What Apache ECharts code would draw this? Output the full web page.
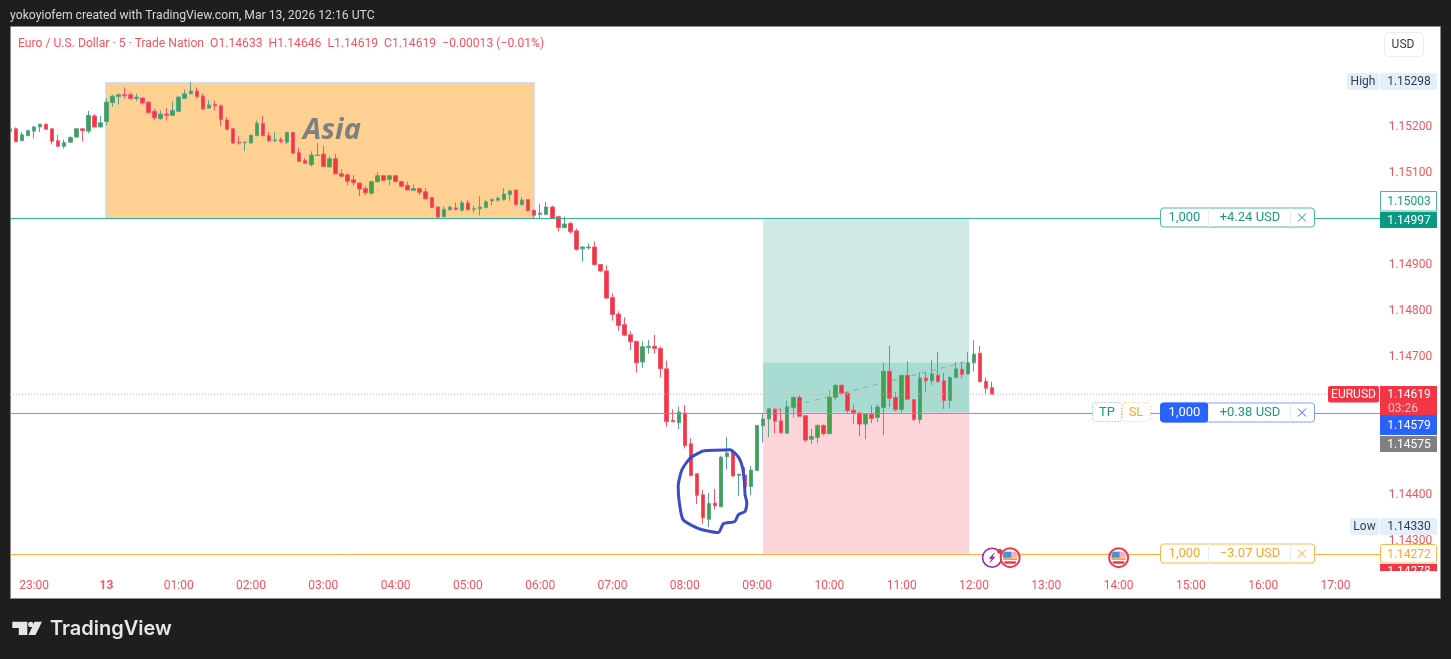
<!DOCTYPE html>
<html><head><meta charset="utf-8">
<style>html,body{margin:0;padding:0;background:#1e1e1e}#c{width:1451px;height:659px}</style>
<script src="https://cdn.jsdelivr.net/npm/echarts@6/dist/echarts.min.js"></script>
</head><body><div id="c"></div>
<script>
const opens=[1.15190,1.15196,1.15170,1.15181,1.15191,1.15200,1.15206,1.15196,1.15170,1.15158,
1.15167,1.15178,1.15196,1.15191,1.15224,1.15200,1.15212,1.15253,1.15266,1.15270,
1.15270,1.15262,1.15263,1.15254,1.15234,1.15218,1.15228,1.15225,1.15234,1.15262,
1.15272,1.15278,1.15267,1.15241,1.15249,1.15246,1.15215,1.15196,1.15167,1.15166,
1.15165,1.15181,1.15208,1.15181,1.15170,1.15172,1.15167,1.15188,1.15144,1.15127,
1.15118,1.15138,1.15141,1.15113,1.15131,1.15098,1.15096,1.15085,1.15078,1.15066,
1.15056,1.15081,1.15094,1.15086,1.15094,1.15081,1.15073,1.15062,1.15066,1.15059,
1.15047,1.15026,1.15005,1.15020,1.15024,1.15019,1.15035,1.15021,1.15022,1.15025,
1.15039,1.15041,1.15042,1.15053,1.15063,1.15031,1.15042,1.15019,1.15010,1.15010,
1.15026,1.15005,1.14981,1.14990,1.14974,1.14935,1.14937,1.14939,1.14901,1.14887,
1.14829,1.14793,1.14770,1.14748,1.14734,1.14689,1.14720,1.14723,1.14718,1.14674,
1.14562,1.14557,1.14578,1.14511,1.14446,1.14400,1.14347,1.14382,1.14374,1.14483,
1.14493,1.14442,1.14443,1.14418,1.14453,1.14550,1.14565,1.14586,1.14561,1.14534,
1.14590,1.14612,1.14572,1.14521,1.14525,1.14551,1.14533,1.14612,1.14638,1.14621,
1.14584,1.14578,1.14554,1.14575,1.14568,1.14590,1.14669,1.14612,1.14586,1.14660,
1.14607,1.14564,1.14654,1.14648,1.14660,1.14648,1.14605,1.14655,1.14673,1.14663,
1.14687,1.14708,1.14647,1.14633];
const closes=[1.15196,1.15168,1.15183,1.15192,1.15200,1.15206,1.15195,1.15169,1.15158,1.15166,
1.15177,1.15196,1.15192,1.15225,1.15200,1.15209,1.15254,1.15267,1.15270,1.15268,
1.15262,1.15265,1.15252,1.15231,1.15220,1.15228,1.15225,1.15236,1.15265,1.15272,
1.15278,1.15266,1.15239,1.15248,1.15246,1.15216,1.15195,1.15165,1.15165,1.15167,
1.15182,1.15208,1.15181,1.15170,1.15172,1.15169,1.15188,1.15143,1.15125,1.15121,
1.15139,1.15139,1.15114,1.15131,1.15098,1.15093,1.15082,1.15079,1.15065,1.15057,
1.15081,1.15094,1.15084,1.15094,1.15081,1.15071,1.15063,1.15066,1.15058,1.15044,
1.15025,1.15004,1.15021,1.15026,1.15021,1.15035,1.15020,1.15022,1.15026,1.15037,
1.15042,1.15045,1.15054,1.15061,1.15031,1.15041,1.15018,1.15008,1.15013,1.15026,
1.15001,1.14981,1.14989,1.14972,1.14934,1.14939,1.14939,1.14901,1.14887,1.14828,
1.14792,1.14768,1.14747,1.14733,1.14687,1.14722,1.14723,1.14718,1.14674,1.14559,
1.14559,1.14580,1.14507,1.14442,1.14399,1.14350,1.14381,1.14376,1.14482,1.14491,
1.14441,1.14445,1.14418,1.14454,1.14551,1.14565,1.14587,1.14560,1.14535,1.14591,
1.14612,1.14571,1.14519,1.14527,1.14551,1.14533,1.14612,1.14638,1.14621,1.14583,
1.14579,1.14554,1.14576,1.14566,1.14591,1.14669,1.14610,1.14585,1.14660,1.14608,
1.14564,1.14654,1.14648,1.14663,1.14646,1.14605,1.14655,1.14674,1.14662,1.14687,
1.14706,1.14646,1.14632,1.14619];
const highs=[1.15196,1.15199,1.15189,1.15194,1.15202,1.15207,1.15207,1.15197,1.15183,1.15173,
1.15180,1.15198,1.15197,1.15235,1.15228,1.15224,1.15262,1.15270,1.15273,1.15286,
1.15275,1.15272,1.15264,1.15255,1.15240,1.15236,1.15241,1.15255,1.15266,1.15281,
1.15298,1.15286,1.15272,1.15258,1.15257,1.15249,1.15222,1.15197,1.15180,1.15169,
1.15183,1.15214,1.15224,1.15189,1.15189,1.15178,1.15190,1.15188,1.15155,1.15132,
1.15147,1.15165,1.15159,1.15137,1.15141,1.15108,1.15098,1.15095,1.15079,1.15072,
1.15083,1.15102,1.15095,1.15095,1.15095,1.15083,1.15081,1.15075,1.15067,1.15067,
1.15047,1.15027,1.15027,1.15027,1.15036,1.15040,1.15042,1.15029,1.15049,1.15042,
1.15045,1.15049,1.15067,1.15063,1.15063,1.15047,1.15043,1.15020,1.15033,1.15037,
1.15029,1.15007,1.15005,1.14994,1.14979,1.14940,1.14947,1.14951,1.14901,1.14899,
1.14838,1.14799,1.14786,1.14756,1.14734,1.14734,1.14737,1.14748,1.14723,1.14692,
1.14586,1.14592,1.14595,1.14523,1.14446,1.14411,1.14404,1.14413,1.14485,1.14526,
1.14498,1.14445,1.14460,1.14463,1.14551,1.14578,1.14588,1.14589,1.14587,1.14605,
1.14614,1.14617,1.14573,1.14544,1.14553,1.14553,1.14627,1.14641,1.14641,1.14624,
1.14596,1.14580,1.14578,1.14594,1.14597,1.14687,1.14724,1.14624,1.14661,1.14690,
1.14608,1.14667,1.14666,1.14694,1.14711,1.14665,1.14658,1.14689,1.14690,1.14710,
1.14736,1.14724,1.14655,1.14646];
const lows=[1.15190,1.15167,1.15169,1.15180,1.15175,1.15189,1.15194,1.15162,1.15156,1.15153,
1.15165,1.15177,1.15169,1.15186,1.15199,1.15199,1.15204,1.15244,1.15249,1.15262,
1.15259,1.15256,1.15249,1.15230,1.15215,1.15216,1.15214,1.15224,1.15233,1.15262,
1.15271,1.15262,1.15237,1.15240,1.15236,1.15202,1.15194,1.15163,1.15162,1.15148,
1.15165,1.15181,1.15181,1.15167,1.15168,1.15165,1.15162,1.15141,1.15124,1.15120,
1.15114,1.15137,1.15113,1.15112,1.15097,1.15091,1.15073,1.15072,1.15050,1.15051,
1.15052,1.15079,1.15083,1.15073,1.15080,1.15069,1.15062,1.15061,1.15052,1.15042,
1.15023,1.15002,1.15003,1.15018,1.15018,1.15016,1.15018,1.15014,1.15008,1.15023,
1.15030,1.15037,1.15040,1.15039,1.15030,1.15029,1.15017,1.15000,1.15000,1.15008,
1.15000,1.14973,1.14981,1.14968,1.14931,1.14907,1.14933,1.14898,1.14884,1.14826,
1.14779,1.14757,1.14746,1.14715,1.14666,1.14676,1.14707,1.14707,1.14656,1.14548,
1.14558,1.14543,1.14501,1.14440,1.14380,1.14337,1.14330,1.14368,1.14373,1.14455,
1.14440,1.14397,1.14417,1.14399,1.14452,1.14514,1.14525,1.14534,1.14534,1.14533,
1.14568,1.14571,1.14515,1.14511,1.14512,1.14529,1.14532,1.14605,1.14616,1.14576,
1.14555,1.14527,1.14521,1.14556,1.14558,1.14530,1.14591,1.14581,1.14579,1.14607,
1.14560,1.14555,1.14625,1.14639,1.14645,1.14587,1.14587,1.14654,1.14654,1.14662,
1.14668,1.14645,1.14620,1.14619];

// 5-minute slots from 22:40 through 17:35 next day
const categories=[];
for(let i=0;i<228;i++){const m=(22*60+40+5*i)%1440;categories.push(String(Math.floor(m/60)).padStart(2,'0')+':'+String(m%60).padStart(2,'0'));}
const dayLabel={'00:00':'13'};
const shownPriceTicks=['1.15200','1.15100','1.14900','1.14800','1.14700','1.14400','1.14300'];

const tpPrice=1.15001, entryPrice=1.14579, slPrice=1.14272, lastPrice=1.14619, runPrice=1.14687;
const entryLine=1.14577, slLine=1.14270;
const asiaBox={from:16.4,to:87.5,top:1.15296,bottom:1.15001};
const posBox={from:125.5,to:159.7};
const tradeLine=[[126.0,1.14579],[159.7,1.14691]];
const axisSpan=[0,228];
const circlePos=[115.6,120.0,121.4,122.1,122.4,122.5,122.8,122.5,121.4,120.8,118.9,118.1,116.1,114.5,112.2,111.6,111.4,112.0,113.4,115.6];
const circlePrice=[1.14496,1.14498,1.14482,1.14458,1.14425,1.14400,1.14382,1.14364,1.14357,1.14342,1.14337,1.14318,1.14322,1.14328,1.14346,1.14382,1.14418,1.14454,1.14480,1.14496];

const FONT='Roboto, "Noto Sans", sans-serif';
const PINK='#f7525f', TEAL='#089981', BLUE='#2962ff', ORANGE='#ffa726', RED='#f23645';

const chart=echarts.init(document.getElementById('c'),null,{renderer:'canvas'});
const levelSeries=(name,p,color,type)=>({name,type:'line',xAxisIndex:1,data:axisSpan.map(x=>[x,p]),silent:true,z:5,showSymbol:false,lineStyle:{color,width:1,type}});
const base={
 animation:false,
 backgroundColor:'#1e1e1e',
 grid:{left:7,right:70.3,top:25.8,bottom:72.2,containLabel:false},
 xAxis:[{type:'category',data:categories,
   axisLine:{show:false},axisTick:{show:false},splitLine:{show:false},
   axisLabel:{color:PINK,fontFamily:FONT,fontSize:12,margin:-7,
     interval:(i,v)=>v.endsWith(':00'),
     formatter:v=>dayLabel[v]?'{b|'+dayLabel[v]+'}':v,
     rich:{b:{fontWeight:'bold',color:PINK,fontFamily:FONT,fontSize:12}}}},
  {type:'value',min:0,max:228,show:false,splitLine:{show:false}}],
 yAxis:{type:'value',position:'right',scale:true,min:1.142,max:1.1542,interval:0.001,
   axisLine:{show:false},axisTick:{show:false},splitLine:{show:false},
   axisLabel:{color:PINK,fontFamily:FONT,fontSize:12,margin:8,padding:[2,0,0,0],showMinLabel:true,showMaxLabel:false,
     formatter:v=>shownPriceTicks.includes(v.toFixed(5))?v.toFixed(5):''}},
 series:[
  {name:'zones',type:'line',xAxisIndex:1,data:[],silent:true,z:1,
   markArea:{silent:true,data:[
    [{xAxis:asiaBox.from,yAxis:asiaBox.top,itemStyle:{color:'#fed192',borderColor:'#cfdcf7',borderWidth:1.5}},{xAxis:asiaBox.to,yAxis:asiaBox.bottom}],
    [{xAxis:posBox.from,yAxis:tpPrice,itemStyle:{color:'#cfeae4'}},{xAxis:posBox.to,yAxis:entryPrice}],
    [{xAxis:posBox.from,yAxis:runPrice,itemStyle:{color:'#a8dcd2'}},{xAxis:posBox.to,yAxis:entryPrice}],
    [{xAxis:posBox.from,yAxis:entryPrice,itemStyle:{color:'#fbd5d9'}},{xAxis:posBox.to,yAxis:slPrice}]
   ]}},
  {name:'trade',type:'line',xAxisIndex:1,data:tradeLine,silent:true,z:1.5,showSymbol:false,
   lineStyle:{color:'#9aa5a2',width:1,type:[5,5]}},
  {name:'EURUSD',type:'candlestick',xAxisIndex:0,z:2,barWidth:4,
   data:opens.map((o,i)=>[o,closes[i],lows[i],highs[i]]),
   itemStyle:{color:'#43a04b',color0:RED,borderColor:'#55a58c',borderColor0:'#f5566a',borderWidth:1}},
  levelSeries('tp',tpPrice,'#35ae97','solid'),
  levelSeries('entry',entryLine,'#6f90fb','solid'),
  levelSeries('sl',slLine,'#ffa726','solid'),
  levelSeries('last',lastPrice,'#f7a0a8',[1,2]),
  {name:'circle',type:'line',xAxisIndex:1,data:circlePos.map((x,i)=>[x,circlePrice[i]]),silent:true,z:6,
   showSymbol:false,smooth:0.2,lineStyle:{color:'#3b4cc8',width:3}}
 ]
};
chart.setOption(base);

const Y=p=>chart.convertToPixel({yAxisIndex:0},p);
const X=t=>chart.convertToPixel({xAxisIndex:0},t);
const Z=100;
const g=[];
const rect=(x,y,w,h,fill,stroke,extra)=>g.push({type:'rect',silent:true,z:Z,shape:{x,y,width:w,height:h,r:(extra&&extra.r)||0},style:{fill:fill||'none',stroke:stroke||null,lineWidth:1,lineDash:extra&&extra.dash}});
const text=(t,x,y,fill,style)=>g.push({type:'text',silent:true,z:Z+1,style:Object.assign({text:t,x,y,fill,align:'center',verticalAlign:'middle',font:'12px '+FONT},style)});
const line=(x1,y1,x2,y2,c,w)=>g.push({type:'line',silent:true,z:Z+1,shape:{x1,y1,x2,y2},style:{stroke:c,lineWidth:w||1}});
const circle=(cx,cy,r,fill,stroke,w)=>g.push({type:'circle',silent:true,z:Z+1,shape:{cx,cy,r},style:{fill:fill||'none',stroke:stroke||null,lineWidth:w||1}});

// panel
g.push({type:'rect',silent:true,z:-5,shape:{x:10.5,y:26.5,width:1430,height:572},style:{fill:'#ffffff',stroke:'#8a8a8a',lineWidth:1}});
g.push({type:'rect',silent:true,z:50,shape:{x:0,y:20,width:10,height:590},style:{fill:'#1e1e1e'}});

// header
text('yokoyiofem created with TradingView.com, Mar 13, 2026 12:16 UTC',10,15.5,'#d6d6d6',{align:'left',font:'12.2px '+FONT});
text('Euro / U.S. Dollar · 5 · Trade Nation  O1.14633  H1.14646  L1.14619  C1.14619  −0.00013 (−0.01%)',18,43.5,PINK,{align:'left',font:'12.15px '+FONT});

// USD button
rect(1384.5,32.5,39,24,'#ffffff','#ececec',{r:4});
text('USD',1403,44.5,'#363a45');

// Asia label
text('Asia',332,130.5,'#7f7f7f',{font:'italic bold 29px "Open Sans", sans-serif'});

// High / Low
rect(1347,73,32,17,'#e3effd',null,{r:2});rect(1380,73,57,17,'#e3effd',null,{r:2});
text('High',1363,82,'#363a45');text('1.15298',1409,82,'#363a45');
rect(1350,518,29,17,'#e3effd',null,{r:2});rect(1380,518,57,17,'#e3effd',null,{r:2});
text('Low',1364.5,527,'#363a45');text('1.14330',1409,527,'#363a45');

// axis tags
rect(1380.5,191.5,56,19.5,'#ffffff','#4db8a2');text('1.15003',1409,201.5,'#1c9a83');
rect(1380,212,57,16,TEAL);text('1.14997',1409,220.5,'#ffffff');
rect(1328,386,51,16.5,RED,null,{r:2});text('EURUSD',1353.5,394.5,'#ffffff');
rect(1380,386,57,30,RED);text('1.14619',1409,394.5,'#ffffff');text('03:26',1403,409,'#fbc4c9');
rect(1380,415,57,20,BLUE);text('1.14579',1409,425.5,'#ffffff');
rect(1380,436,57,16,'#808080');text('1.14575',1409,444.5,'#ffffff');
rect(1380,564,57,10,RED);text('1.14278',1409,572,'#ffffff');
g.push({type:'rect',silent:true,z:Z+2,shape:{x:1380,y:571,width:57,height:12},style:{fill:'#ffffff'}});
rect(1380.5,544.5,56,18.5,'#ffffff','#ffb74d',{r:2});text('1.14272',1409,554.5,ORANGE);

// order pills
const PILL_FONT='13px '+FONT;
const pill=(p,border,qtyFill,qtyCol,txt,txtCol,xCol)=>{
 const y=Math.round(Y(p))-0.5;const top=y-9.5,h=19;
 rect(1160.5,top,154,h,'#ffffff',border,{r:3});
 if(qtyFill)rect(1160.5,top,47.5,h,qtyFill,qtyFill,{r:3});
 line(1208.5,top,1208.5,top+h,'#e6f1ef');line(1290.5,top,1290.5,top+h,'#e6f1ef');
 text('1,000',1184.5,y+0.5,qtyCol,{font:PILL_FONT});
 text(txt,1250,y+0.5,txtCol,{font:PILL_FONT});
 line(1298,y-4,1306,y+4,xCol);line(1306,y-4,1298,y+4,xCol);
};
pill(tpPrice,'#4db8a2',null,'#1c9a83','+4.24 USD','#1c9a83','#1c9a83');
pill(entryPrice,'#7e9dfb',BLUE,'#ffffff','+0.38 USD','#1c9a83',BLUE);
pill(slPrice,'#ffb74d',null,ORANGE,'−3.07 USD',ORANGE,ORANGE);

// TP / SL buttons
rect(1092.5,402.5,29,19,'#ffffff','#6cc7b4',{r:3,dash:[1,2]});text('TP',1107,412.5,'#1c9a83',{font:PILL_FONT});
rect(1122.5,402.5,28,19,'#ffffff','#ffc680',{r:3,dash:[1,2]});text('SL',1136,412.5,ORANGE,{font:PILL_FONT});

// event icons on the time scale
const evY=Y(slPrice)+4;
const evtLightning='12:15', evtFlags=['12:30','14:00'];
{const x=X(evtLightning);
 circle(x,evY,9.5,'#ffffff','#9c27b0',1.6);
 g.push({type:'polygon',silent:true,z:Z+1,shape:{points:[[x+3,evY-6],[x-3.5,evY+1],[x-0.5,evY+1],[x-3,evY+6],[x+3.5,evY-1],[x+0.5,evY-1]]},style:{fill:'#9c27b0'}});
}
evtFlags.forEach(t=>{const x=X(t);
 circle(x,evY,9.5,'#ffffff',RED,2);
 g.push({type:'rect',silent:true,z:Z+2,shape:{x:x-7,y:evY-6,width:14,height:6,r:[3,3,0,0]},style:{fill:'#f7b0b5'}});
 g.push({type:'rect',silent:true,z:Z+2,shape:{x:x-7,y:evY-6,width:8,height:6,r:[3,0,0,0]},style:{fill:'#4a90e2'}});
 g.push({type:'rect',silent:true,z:Z+2,shape:{x:x-7,y:evY+0.5,width:14,height:1.8},style:{fill:'#f4a040'}});
 g.push({type:'rect',silent:true,z:Z+2,shape:{x:x-6,y:evY+3.5,width:12,height:2.5,r:1},style:{fill:RED}});
});
circle(X(evtLightning)+7.5,evY-6.5,2.5,RED,null);

// TradingView footer
g.push({type:'polygon',silent:true,z:Z,shape:{points:[[12.3,621.7],[27.3,621.7],[27.3,635],[18.8,635],[18.8,628],[12.3,628]]},style:{fill:'#e6e6e6'}});
circle(30.8,624.4,2.7,'#e6e6e6',null);
g.push({type:'polygon',silent:true,z:Z,shape:{points:[[34.5,621.7],[42,621.7],[35.5,635],[28.5,635]]},style:{fill:'#e6e6e6'}});
text('TradingView',50,629,'#e6e6e6',{align:'left',font:'600 20px Inter, Roboto, sans-serif'});

chart.setOption({graphic:{elements:g}});
</script></body></html>
